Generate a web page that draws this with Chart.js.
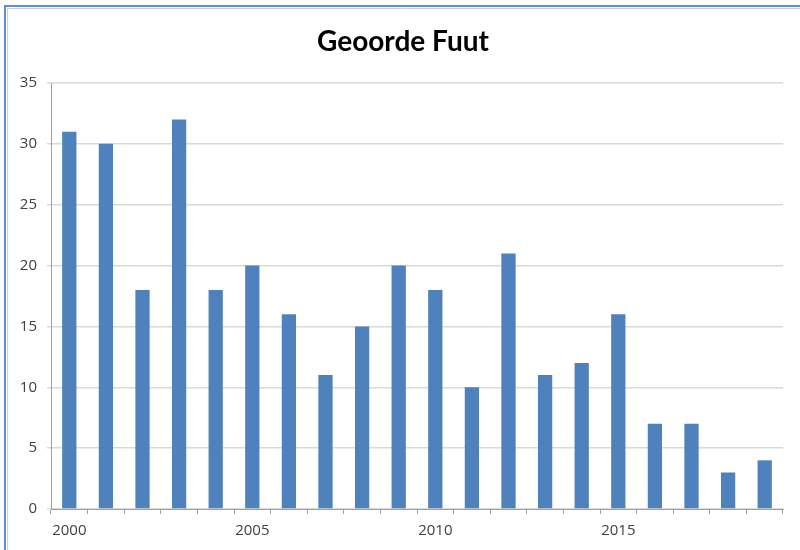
<!DOCTYPE html>
<html>
<head>
<meta charset="utf-8">
<script src="https://cdn.jsdelivr.net/npm/chart.js@4/dist/chart.umd.min.js"></script>
<style>
html,body{margin:0;padding:0;background:#fff;}
#wrap{position:relative;width:800px;height:550px;}
</style>
</head>
<body>
<div id="wrap"><canvas id="c" width="800" height="550"></canvas></div>
<script>
const years = [2000,2001,2002,2003,2004,2005,2006,2007,2008,2009,2010,2011,2012,2013,2014,2015,2016,2017,2018,2019];
const counts = [31,30,18,32,18,20,16,11,15,20,18,10,21,11,12,16,7,7,3,4];
const yTicks = [0,5,10,15,20,25,30,35];
const titleText = 'Geoorde Fuut';

const frame = {
  id: 'frame',
  afterDraw(chart) {
    const ctx = chart.ctx;
    ctx.save();
    ctx.strokeStyle = '#5b8ed6';
    ctx.lineWidth = 2;
    ctx.beginPath();
    ctx.moveTo(5, 560);
    ctx.lineTo(5, 6);
    ctx.lineTo(805, 6);
    ctx.stroke();
    ctx.strokeStyle = '#d0d0d0';
    ctx.lineWidth = 1;
    ctx.beginPath();
    ctx.moveTo(7.5, 560);
    ctx.lineTo(7.5, 8.5);
    ctx.lineTo(805, 8.5);
    ctx.stroke();
    ctx.font = 'bold 28px Lato';
    ctx.fillStyle = '#000';
    ctx.textAlign = 'center';
    ctx.textBaseline = 'middle';
    ctx.fillText(titleText, 403, 42);
    ctx.restore();
  }
};

new Chart(document.getElementById('c'), {
  type: 'bar',
  data: {
    labels: years.map(String),
    datasets: [{
      data: counts,
      backgroundColor: '#4f81bd',
      borderWidth: 0,
      categoryPercentage: 1,
      barPercentage: 0.39
    }]
  },
  options: {
    responsive: false,
    animation: false,
    devicePixelRatio: 1,
    layout: { padding: { left: 0, right: 17, top: 83, bottom: 0 } },
    plugins: {
      legend: { display: false },
      tooltip: { enabled: false },
      title: { display: false }
    },
    scales: {
      x: {
        offset: true,
        grid: {
          offset: true,
          drawOnChartArea: false,
          drawTicks: true,
          tickLength: 5,
          color: '#a0a0a0'
        },
        border: { display: true, color: '#a0a0a0', width: 1 },
        ticks: {
          autoSkip: false,
          maxRotation: 0,
          color: '#404040',
          font: { family: 'Open Sans', size: 15 },
          padding: 8,
          callback: function(v, i) { return i % 5 === 0 ? years[i] : ''; }
        },
        afterFit(scale) { scale.height = 41; }
      },
      y: {
        min: 0,
        max: 35,
        afterBuildTicks(scale) { scale.ticks = yTicks.map(v => ({ value: v })); },
        grid: {
          color: '#d9d9d9',
          lineWidth: 1.5,
          drawTicks: true,
          tickLength: 4
        },
        border: { display: true, color: '#a0a0a0', width: 1 },
        ticks: {
          color: '#404040',
          font: { family: 'Open Sans', size: 15 },
          padding: 10
        },
        afterFit(scale) { scale.width = 51; }
      }
    }
  },
  plugins: [frame]
});
</script>
</body>
</html>
